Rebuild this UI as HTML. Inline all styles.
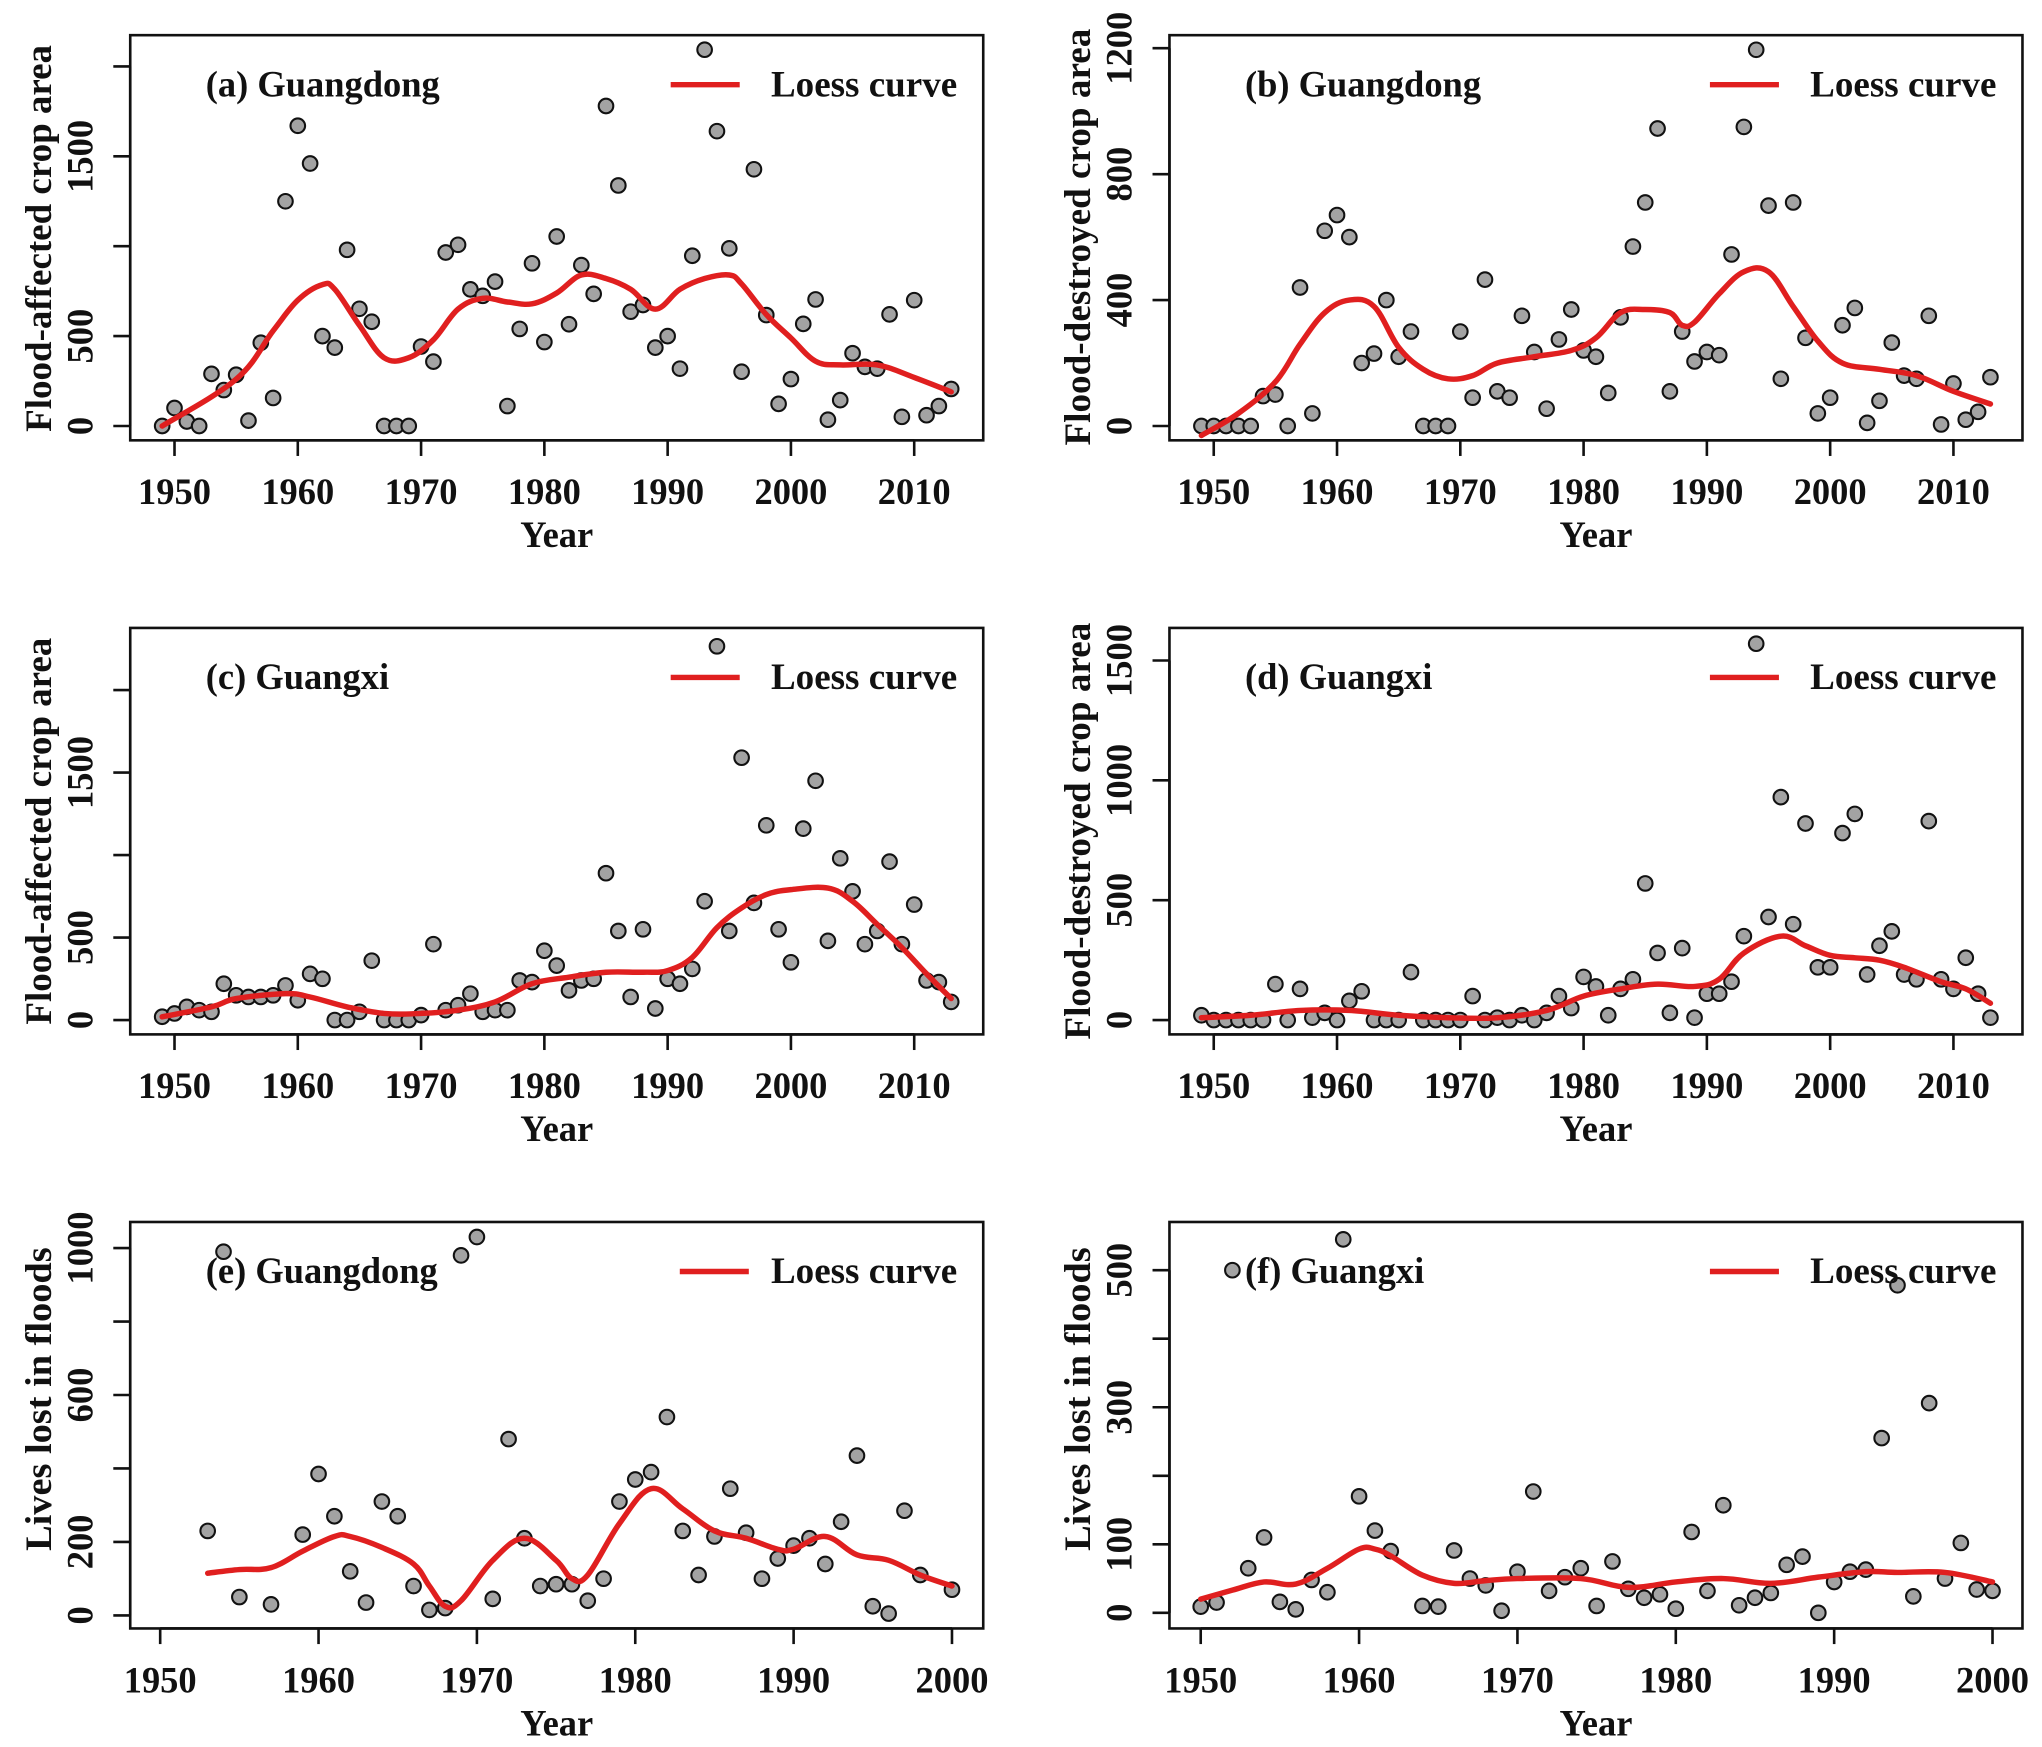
<!DOCTYPE html>
<html><head><meta charset="utf-8"><style>
html,body{margin:0;padding:0;background:#fff;}
svg{display:block;}
text{font-family:"Liberation Serif",serif;font-weight:bold;fill:#111;}
</style></head><body>
<svg id="fig" width="2042" height="1747" viewBox="0 0 1568 1341" preserveAspectRatio="none" xmlns="http://www.w3.org/2000/svg"></svg>
<script>
// ---- data ----
const startA = 1949;
const valsA = [0,100,25,0,290,200,285,30,463,156,1250,1670,1460,500,436,980,652,580,0,0,0,442,358,965,1008,760,724,803,111,540,905,467,1054,566,895,735,1780,1338,636,673,436,500,319,947,2093,1640,988,302,1428,617,123,261,568,704,35,144,405,329,319,621,51,700,60,111,206];
const loessYearsA = [1949,1955,1958,1960,1962,1963,1965,1967,1969,1971,1973,1975,1977,1979,1981,1983,1985,1987,1989,1991,1993,1995,1996,1998,2000,2002,2004,2007,2010,2013];
const loessValsA = [0,260,530,700,786,760,560,380,380,480,650,710,690,680,740,840,820,760,650,760,820,840,790,620,490,360,340,340,270,190];

const startB = 1949;
const valsB = [0,0,0,0,0,95,100,0,440,40,620,670,600,200,230,400,220,300,0,0,0,300,90,465,110,90,350,235,55,275,370,240,220,105,345,570,710,945,110,300,205,235,225,545,950,1195,700,150,710,280,40,90,320,375,10,80,265,160,150,350,5,135,20,45,155];
const loessYearsB = [1949,1952,1955,1957,1959,1961,1963,1965,1967,1969,1971,1973,1976,1979,1981,1983,1985,1987,1988,1989,1991,1993,1995,1997,1999,2001,2004,2007,2010,2013];
const loessValsB = [-30,40,140,260,360,400,380,250,180,150,160,200,220,240,280,360,370,360,320,330,420,490,490,380,270,200,180,160,110,70];

const startC = 1949;
const valsC = [20,40,80,60,50,220,150,140,140,150,210,120,280,250,0,0,50,360,0,0,0,30,460,60,90,160,50,60,60,240,230,420,330,180,240,250,890,540,140,550,70,250,220,310,720,2265,540,1590,710,1180,550,350,1160,1450,480,980,780,460,540,960,460,700,240,230,110];
const loessYearsC = [1949,1953,1955,1959,1961,1964,1967,1970,1973,1976,1979,1982,1985,1988,1990,1992,1994,1996,1998,2000,2003,2005,2007,2009,2011,2013];
const loessValsC = [20,80,130,160,140,80,40,40,60,110,220,260,290,290,300,380,560,680,760,790,800,720,580,440,280,130];

const startD = 1949;
const valsD = [20,0,0,0,0,0,150,0,130,10,30,0,80,120,0,0,0,200,0,0,0,0,100,0,10,0,20,0,30,100,50,180,140,20,130,170,570,280,30,300,10,110,110,160,350,1570,430,930,400,820,220,220,780,860,190,310,370,190,170,830,170,130,260,110,10];
const loessYearsD = [1949,1953,1957,1961,1965,1969,1973,1977,1980,1983,1986,1989,1991,1993,1996,1998,2000,2002,2004,2006,2009,2011,2013];
const loessValsD = [10,20,40,40,20,10,10,40,100,130,150,140,170,280,350,310,270,260,250,220,160,130,70];

const yearsE = [1953,1954,1955,1957,1959,1960,1961,1962,1963,1964,1965,1966,1967,1968,1969,1970,1971,1972,1973,1974,1975,1976,1977,1978,1979,1980,1981,1982,1983,1984,1985,1986,1987,1988,1989,1990,1991,1992,1993,1994,1995,1996,1997,1998,2000];
const valsE = [230,990,50,30,220,385,270,120,35,310,270,80,15,20,980,1030,45,480,210,80,85,85,40,100,310,370,390,540,230,110,215,345,225,100,155,190,210,140,255,435,25,5,285,110,70];
const loessYearsE = [1953,1955,1957,1959,1961,1962,1964,1966,1967,1968,1969,1971,1973,1975,1976,1977,1979,1981,1983,1985,1987,1989,1990,1992,1994,1996,1998,2000];
const loessValsE = [115,125,130,175,215,215,185,140,80,25,40,150,210,150,100,110,250,345,290,230,210,180,180,215,165,150,110,80];

const yearsF = [1950,1951,1952,1953,1954,1955,1956,1957,1958,1959,1960,1961,1962,1964,1965,1966,1967,1968,1969,1970,1971,1972,1973,1974,1975,1976,1977,1978,1979,1980,1981,1982,1983,1984,1985,1986,1987,1988,1989,1990,1991,1992,1993,1994,1995,1996,1997,1998,1999,2000];
const valsF = [9,15,500,65,110,16,5,48,30,545,170,120,90,10,9,91,50,40,3,60,177,32,52,65,10,75,35,22,27,6,118,32,157,11,22,29,70,82,0,45,60,63,255,478,24,306,50,102,34,32];
const loessYearsF = [1950,1952,1954,1956,1958,1960,1961,1962,1964,1966,1968,1970,1974,1977,1980,1983,1986,1989,1992,1994,1997,2000];
const loessValsF = [20,33,45,42,65,93,93,83,55,43,47,50,50,37,45,50,43,52,60,59,59,45];

const xTicks6 = [1950,1960,1970,1980,1990,2000,2010];
const xTicks5 = [1950,1960,1970,1980,1990,2000];
const yTicksA = [0,500,1000,1500,2000]; const yLabelsA = ["0","500","","1500",""];
const yTicksB = [0,400,800,1200]; const yLabelsB = ["0","400","800","1200"];
const yTicksC = [0,500,1000,1500,2000]; const yLabelsC = ["0","500","","1500",""];
const yTicksD = [0,500,1000,1500]; const yLabelsD = ["0","500","1000","1500"];
const yTicksE = [0,200,400,600,800,1000]; const yLabelsE = ["0","200","","600","","1000"];
const yTicksF = [0,100,200,300,400,500]; const yLabelsF = ["0","100","","300","","500"];

function seq(start,n){const r=[];for(let i=0;i<n;i++)r.push(start+i);return r;}

const NS="http://www.w3.org/2000/svg";
const svg=document.getElementById('fig');
function mk(tag,attrs,parent){const e=document.createElementNS(NS,tag);for(const k in attrs)e.setAttribute(k,attrs[k]);(parent||svg).appendChild(e);return e;}

function smoothPath(P){
  let d='M'+P[0][0].toFixed(1)+','+P[0][1].toFixed(1);
  for(let i=0;i<P.length-1;i++){
    const p0=P[Math.max(0,i-1)],p1=P[i],p2=P[i+1],p3=P[Math.min(P.length-1,i+2)];
    const t=0.18;
    const c1=[p1[0]+(p2[0]-p0[0])*t,p1[1]+(p2[1]-p0[1])*t];
    const c2=[p2[0]-(p3[0]-p1[0])*t,p2[1]-(p3[1]-p1[1])*t];
    d+=' C'+c1[0].toFixed(1)+','+c1[1].toFixed(1)+' '+c2[0].toFixed(1)+','+c2[1].toFixed(1)+' '+p2[0].toFixed(1)+','+p2[1].toFixed(1);
  }
  return d;
}

function drawPanel(p){
  const g=mk('g',{});
  
  
  const [L,T,R,B]=p.box;
  const xs=v=>p.x0px+(v-p.x0)*(p.x1px-p.x0px)/(p.x1-p.x0);
  const ys=v=>p.y0px-v*p.ppu;
  const box=mk('rect',{x:L,y:T,width:R-L,height:B-T,fill:'none',stroke:'#111','stroke-width':2},g);
  
  
  const xa=mk('g',{},g);
  
  
  mk('line',{x1:xs(p.xt[0]),x2:xs(p.xt[p.xt.length-1]),y1:B,y2:B,stroke:'#111','stroke-width':2},xa);
  p.xt.forEach(t=>{
    mk('line',{x1:xs(t),x2:xs(t),y1:B,y2:B+12,stroke:'#111','stroke-width':2},xa);
    const tx=mk('text',{x:xs(t),y:B+49,'text-anchor':'middle','font-size':28},xa);
    tx.textContent=t;
    
    
  });
  const xt=mk('text',{x:(L+R)/2,y:B+82,'text-anchor':'middle','font-size':28},g);
  xt.textContent='Year';
  
  
  const ya=mk('g',{},g);
  
  
  mk('line',{x1:L,x2:L,y1:ys(p.yt[0]),y2:ys(p.yt[p.yt.length-1]),stroke:'#111','stroke-width':2},ya);
  p.yt.forEach((t,i)=>{
    mk('line',{x1:L-13,x2:L,y1:ys(t),y2:ys(t),stroke:'#111','stroke-width':2},ya);
    if(p.yl[i]){
      const tx=mk('text',{x:0,y:0,'text-anchor':'middle','font-size':28,transform:`translate(${L-29},${ys(t)}) rotate(-90)`},ya);
      tx.textContent=p.yl[i];
      
      
    }
  });
  const yt=mk('text',{x:0,y:0,'text-anchor':'middle','font-size':28,textLength:p.ytLen,lengthAdjust:'spacingAndGlyphs',transform:`translate(${L-61},${p.ytY}) rotate(-90)`},g);
  yt.textContent=p.ytitle;
  
  
  const pts=mk('g',{},g);
  
  
  p.years.forEach((yr,i)=>{
    const c=mk('circle',{cx:xs(yr),cy:ys(p.vals[i]),r:5.6,fill:'#a3a3a3',stroke:'#111','stroke-width':1.6},pts);
    
    
  });
  const P=p.ly.map((yr,i)=>[xs(yr),ys(p.lv[i])]);
  const ln=mk('path',{d:smoothPath(P),fill:'none',stroke:'#e01f1f','stroke-width':4.2,'stroke-linejoin':'round','stroke-linecap':'round'},g);
  
  
  const tt=mk('text',{x:L+58,y:T+47,'font-size':28},g);
  tt.textContent=p.title;
  
  
  const lg=mk('g',{},g);
  
  
  mk('line',{x1:L+p.legX,x2:L+p.legX+53,y1:T+38,y2:T+38,stroke:'#e01f1f','stroke-width':4.2},lg);
  const lt=mk('text',{x:L+492,y:T+47,'font-size':28,textLength:143,lengthAdjust:'spacingAndGlyphs'},lg);
  lt.textContent='Loess curve';
  
  
}

const panels=[
 {id:'a',box:[100,27,755,338],x0:1950,x0px:134,x1:2010,x1px:702,y0px:327,ppu:(327-120)/1500,
  xt:xTicks6,yt:yTicksA,yl:yLabelsA,ytitle:'Flood-affected crop area',ytLen:297,ytY:183,
  years:seq(startA,valsA.length),vals:valsA,ly:loessYearsA,lv:loessValsA,title:'(a) Guangdong',legX:415},
 {id:'b',box:[898,27,1553,338],x0:1950,x0px:932,x1:2010,x1px:1500,y0px:327,ppu:(327-37)/1200,
  xt:xTicks6,yt:yTicksB,yl:yLabelsB,ytitle:'Flood-destroyed crop area',ytLen:320,ytY:182,
  years:seq(startB,valsB.length),vals:valsB,ly:loessYearsB,lv:loessValsB,title:'(b) Guangdong',legX:415},
 {id:'c',box:[100,482,755,794],x0:1950,x0px:134,x1:2010,x1px:702,y0px:783,ppu:(783-593)/1500,
  xt:xTicks6,yt:yTicksC,yl:yLabelsC,ytitle:'Flood-affected crop area',ytLen:297,ytY:638,
  years:seq(startC,valsC.length),vals:valsC,ly:loessYearsC,lv:loessValsC,title:'(c) Guangxi',legX:415},
 {id:'d',box:[898,482,1553,794],x0:1950,x0px:932,x1:2010,x1px:1500,y0px:783,ppu:(783-507)/1500,
  xt:xTicks6,yt:yTicksD,yl:yLabelsD,ytitle:'Flood-destroyed crop area',ytLen:320,ytY:638,
  years:seq(startD,valsD.length),vals:valsD,ly:loessYearsD,lv:loessValsD,title:'(d) Guangxi',legX:415},
 {id:'e',box:[100,938,755,1250],x0:1950,x0px:123,x1:2000,x1px:731,y0px:1240,ppu:(1240-958)/1000,
  xt:xTicks5,yt:yTicksE,yl:yLabelsE,ytitle:'Lives lost in floods',ytLen:233,ytY:1074,
  years:yearsE,vals:valsE,ly:loessYearsE,lv:loessValsE,title:'(e) Guangdong',legX:422},
 {id:'f',box:[898,938,1553,1250],x0:1950,x0px:922,x1:2000,x1px:1530,y0px:1238,ppu:(1238-975)/500,
  xt:xTicks5,yt:yTicksF,yl:yLabelsF,ytitle:'Lives lost in floods',ytLen:233,ytY:1074,
  years:yearsF,vals:valsF,ly:loessYearsF,lv:loessValsF,title:'(f) Guangxi',legX:415}
];
panels.forEach(drawPanel);
</script>
</body></html>
